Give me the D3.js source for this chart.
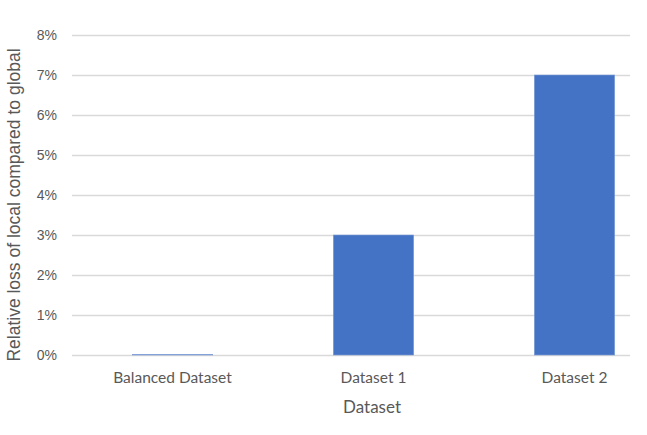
<html>
  <head>
    <script src="https://d3js.org/d3.v7.min.js"></script>
    <style>
      body { margin: 0; background: white; }
    </style>
  </head>
  <body>
    <script type="text/javascript">
      // input data
      var categories = ["Balanced Dataset", "Dataset 1", "Dataset 2"];
      var values = [0.0001, 0.03, 0.07];
      var yTicks = [0, 0.01, 0.02, 0.03, 0.04, 0.05, 0.06, 0.07, 0.08];

      var width = 647;
      var height = 435;

      var svg = d3.select("body").append("svg")
        .attr("width", width)
        .attr("height", height);

      var plotLeft = 72, plotRight = 630, plotTop = 35, plotBottom = 355;

      var x = d3.scaleBand()
        .domain(categories)
        .range([plotLeft, 675])
        .paddingInner(0.6)
        .paddingOuter(0.3);

      var y = d3.scaleLinear()
        .domain([0, 0.08])
        .range([plotBottom, plotTop]);

      // gridlines
      var yGrid = d3.axisLeft(y)
        .tickValues(yTicks)
        .tickFormat("")
        .tickSize(-(plotRight - plotLeft));
      var gridGroup = svg.append("g")
        .attr("transform", "translate(" + plotLeft + ",0)")
        .call(yGrid);
      gridGroup.select(".domain").remove();
      gridGroup.selectAll("line")
        .attr("stroke", "#d9d9d9")
        .attr("stroke-width", 1.3);

      // y tick labels
      var yAxis = d3.axisLeft(y)
        .tickValues(yTicks)
        .tickFormat(d3.format(".0%"))
        .tickSize(0)
        .tickPadding(15);
      var yAxisGroup = svg.append("g")
        .attr("transform", "translate(" + plotLeft + ",0)")
        .call(yAxis);
      yAxisGroup.select(".domain").remove();
      yAxisGroup.selectAll("text")
        .attr("font-family", "Liberation Sans, Arial, sans-serif")
        .attr("font-size", "14px")
        .attr("fill", "#595959");

      // bars
      svg.selectAll(".bar")
        .data(values)
        .enter()
        .append("rect")
        .attr("class", "bar")
        .attr("x", (d, i) => x(categories[i]))
        .attr("width", x.bandwidth())
        .attr("y", d => y(d))
        .attr("height", d => y(0) - y(d))
        .attr("fill", "#4472c4")
        .attr("stroke", "#7f9fd8")
        .attr("stroke-width", 0.6);

      // x tick labels
      var xAxis = d3.axisBottom(x).tickSize(0).tickPadding(17);
      var xAxisGroup = svg.append("g")
        .attr("transform", "translate(0," + plotBottom + ")")
        .call(xAxis);
      xAxisGroup.select(".domain").remove();
      xAxisGroup.selectAll("text")
        .attr("font-family", "Lato, 'Open Sans', sans-serif")
        .attr("font-size", "15.5px")
        .attr("fill", "#595959");

      // axis titles
      svg.append("text")
        .text("Dataset")
        .attr("x", 372)
        .attr("y", 413)
        .attr("text-anchor", "middle")
        .attr("font-family", "Lato, 'Open Sans', sans-serif")
        .attr("font-size", "17px")
        .attr("fill", "#595959");

      svg.append("text")
        .text("Relative loss of local compared to global")
        .attr("transform", "translate(20,205) rotate(-90)")
        .attr("text-anchor", "middle")
        .attr("font-family", "Liberation Sans, Arial, sans-serif")
        .attr("font-size", "17.5px")
        .attr("fill", "#595959");
    </script>
  </body>
</html>
